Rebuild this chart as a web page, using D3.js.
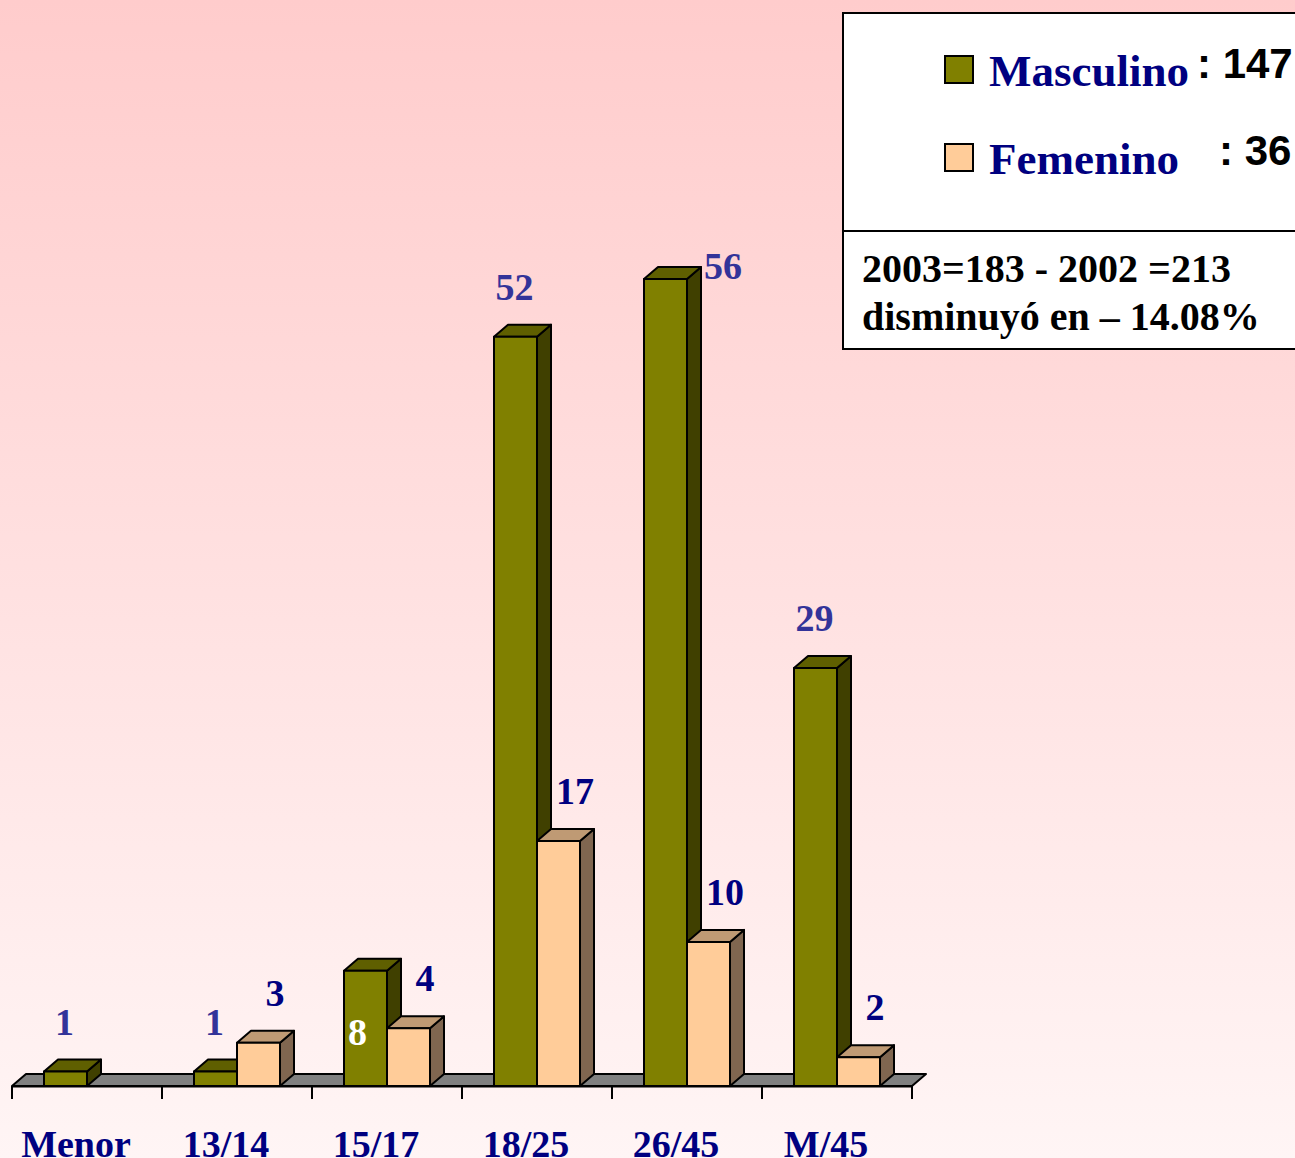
<!DOCTYPE html>
<html>
<head>
<meta charset="utf-8">
<script src="https://cdn.jsdelivr.net/npm/d3@7"></script>
<style>
  body { margin: 0; overflow: hidden; }
  svg { display: block; }
</style>
</head>
<body>
<svg id="stage"></svg>
<script>
/* ---------- data ---------- */

const categories = ["Menor", "13/14", "15/17", "18/25", "26/45", "M/45"];
const series = ["Masculino", "Femenino"];
const masculino = [1, 1, 8, 52, 56, 29];
const femenino = [null, 3, 4, 17, 10, 2];
const totals = [147, 36];
const note_lines = ["2003=183 - 2002 =213", "disminuyó en – 14.08%"];

/* ---------- setup ---------- */

const width = 1295;
const height = 1158;
const serif = "'Times New Roman', 'Liberation Serif', serif";
const sans = "Arial, 'Liberation Sans', sans-serif";

const svg = d3.select("#stage")
  .attr("width", width)
  .attr("height", height);

const defs = svg.append("defs");
const grad = defs.append("linearGradient")
  .attr("id", "bg")
  .attr("x1", 0).attr("y1", 0)
  .attr("x2", 0).attr("y2", 1);
grad.append("stop").attr("offset", "0%").attr("stop-color", "#ffcccc");
grad.append("stop").attr("offset", "100%").attr("stop-color", "#fff5f5");

svg.append("rect")
  .attr("width", width)
  .attr("height", height)
  .attr("fill", "url(#bg)");

const colors = {
  Masculino: { front: "#808000", top: "#5f5f00", side: "#404000", label: "#333399" },
  Femenino: { front: "#ffcc99", top: "#bf9a74", side: "#806650", label: "#000080" }
};

const dx = 14;
const dy = -12;
const floor_y = 1086;

const x0 = d3.scaleBand()
  .domain(categories)
  .range([12, 912]);

const x1 = d3.scaleBand()
  .domain(series)
  .range([32, 118]);

const y = d3.scaleLinear()
  .domain([0, 56])
  .range([floor_y, 279]);

/* ---------- floor + axis ---------- */

const [ax0, ax1] = x0.range();

svg.append("polygon")
  .attr("points", [[ax0, floor_y], [ax0 + dx, floor_y + dy], [ax1 + dx, floor_y + dy], [ax1, floor_y]].join(" "))
  .attr("fill", "#808080")
  .attr("stroke", "#000")
  .attr("stroke-width", 2)
  .attr("stroke-linejoin", "round");

const axis = d3.axisBottom(x0)
  .tickValues([])
  .tickSizeOuter(0);

svg.append("g")
  .attr("transform", `translate(0,${floor_y})`)
  .call(axis)
  .call(g => g.select(".domain").attr("stroke", "#000").attr("stroke-width", 2));

svg.append("g")
  .selectAll("line")
  .data(categories.map(c => x0(c)).concat([ax1]))
  .join("line")
  .attr("x1", d => d)
  .attr("x2", d => d)
  .attr("y1", floor_y)
  .attr("y2", floor_y + 13)
  .attr("stroke", "#000")
  .attr("stroke-width", 2);

/* ---------- bars ---------- */

const bars = categories.flatMap((c, i) => [
  { c, s: "Masculino", v: masculino[i] },
  { c, s: "Femenino", v: femenino[i] }
]).filter(d => d.v != null);

const bar_layer = svg.append("g");

bars.forEach(d => {
  const x = x0(d.c) + x1(d.s);
  const w = x1.bandwidth();
  const yt = y(d.v);
  const col = colors[d.s];
  const g = bar_layer.append("g")
    .attr("stroke", "#000")
    .attr("stroke-width", 2)
    .attr("stroke-linejoin", "round");

  g.append("polygon")
    .attr("points", [[x + w, yt], [x + w + dx, yt + dy], [x + w + dx, floor_y + dy], [x + w, floor_y]].join(" "))
    .attr("fill", col.side);

  g.append("polygon")
    .attr("points", [[x, yt], [x + dx, yt + dy], [x + w + dx, yt + dy], [x + w, yt]].join(" "))
    .attr("fill", col.top);

  g.append("rect")
    .attr("x", x)
    .attr("y", yt)
    .attr("width", w)
    .attr("height", floor_y - yt)
    .attr("fill", col.front);
});

/* ---------- value labels ---------- */

function label_pos(d) {
  const x = x0(d.c) + x1(d.s);
  const w = x1.bandwidth();
  const yt = y(d.v);
  if (d.s === "Femenino") return { x: x + w - 5, y: yt - 37, fill: colors.Femenino.label };
  // the small 15/17 bar keeps its number inside, the tall 26/45 one beside its top
  if (d.c === "15/17") return { x: x + w / 2 - 8, y: floor_y - 41, fill: "#ffffff" };
  if (d.c === "26/45") return { x: x + w + dx + 22, y: yt, fill: colors.Masculino.label };
  return { x: x + w / 2 - 1, y: yt - 37, fill: colors.Masculino.label };
}

svg.append("g")
  .selectAll("text")
  .data(bars)
  .join("text")
  .each(function(d) {
    const p = label_pos(d);
    d3.select(this)
      .attr("x", p.x)
      .attr("y", p.y)
      .attr("fill", p.fill);
  })
  .attr("text-anchor", "middle")
  .attr("font-family", serif)
  .attr("font-weight", "bold")
  .attr("font-size", 38)
  .text(d => d.v);

/* ---------- category labels ---------- */

svg.append("g")
  .selectAll("text")
  .data(categories)
  .join("text")
  .attr("x", d => x0(d) + x0.bandwidth() / 2 - 11)
  .attr("y", 1157)
  .attr("text-anchor", "middle")
  .attr("font-family", serif)
  .attr("font-weight", "bold")
  .attr("font-size", 38)
  .attr("fill", "#000080")
  .text(d => d);

/* ---------- legend box ---------- */

const legend = svg.append("g");

legend.append("rect")
  .attr("x", 843)
  .attr("y", 13)
  .attr("width", 500)
  .attr("height", 336)
  .attr("fill", "#ffffff")
  .attr("stroke", "#000")
  .attr("stroke-width", 2);

legend.append("line")
  .attr("x1", 843)
  .attr("x2", 1300)
  .attr("y1", 231)
  .attr("y2", 231)
  .attr("stroke", "#000")
  .attr("stroke-width", 2);

const legend_rows = series.map((s, i) => ({ s, total: totals[i], i }));
const row_y = [86, 174];
const total_pos = [[1197, 78], [1219, 165]];

legend.selectAll("rect.key")
  .data(legend_rows)
  .join("rect")
  .attr("class", "key")
  .attr("x", 945)
  .attr("y", d => row_y[d.i] - 30)
  .attr("width", 28)
  .attr("height", 27)
  .attr("fill", d => colors[d.s].front)
  .attr("stroke", "#000")
  .attr("stroke-width", 2);

legend.selectAll("text.name")
  .data(legend_rows)
  .join("text")
  .attr("class", "name")
  .attr("x", 989)
  .attr("y", d => row_y[d.i])
  .attr("font-family", serif)
  .attr("font-weight", "bold")
  .attr("font-size", 45)
  .attr("fill", "#000080")
  .text(d => d.s);

legend.selectAll("text.total")
  .data(legend_rows)
  .join("text")
  .attr("class", "total")
  .attr("x", d => total_pos[d.i][0])
  .attr("y", d => total_pos[d.i][1])
  .attr("font-family", sans)
  .attr("font-weight", "bold")
  .attr("font-size", 42)
  .attr("fill", "#000")
  .text(d => `: ${d.total}`);

legend.selectAll("text.note")
  .data(note_lines)
  .join("text")
  .attr("class", "note")
  .attr("x", 862)
  .attr("y", (d, i) => 282 + i * 48)
  .attr("font-family", serif)
  .attr("font-weight", "bold")
  .attr("font-size", 40)
  .attr("fill", "#000")
  .text(d => d);
</script>
</body>
</html>
